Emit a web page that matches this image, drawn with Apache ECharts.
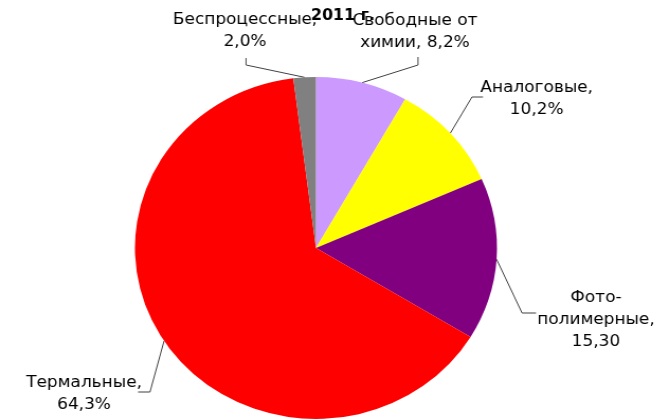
<!DOCTYPE html>
<html>
<head>
<meta charset="utf-8">
<script src="https://cdn.jsdelivr.net/npm/echarts@6/dist/echarts.min.js"></script>
<style>
  html, body { margin: 0; padding: 0; background: #fff; overflow: hidden; }
  /* the reference pie is slightly wider than tall, so the chart is stretched a bit */
  #chart { width: 623px; height: 420px; transform: scaleX(1.0585); transform-origin: 0 0; }
</style>
</head>
<body>
<div id="chart"></div>
<script>
const categories = ["Свободные от химии", "Аналоговые", "Фото-полимерные", "Термальные", "Беспроцессные"];
const values = [8.2, 10.2, 15.3, 64.3, 2.0];
const labelTexts = [
  "Свободные от\nхимии, 8,2%",
  "Аналоговые,\n10,2%",
  "Фото-\nполимерные,\n15,30",
  "Термальные,\n64,3%",
  "Беспроцессные,\n2,0%"
];
const colors = ["#CC99FF", "#FFFF00", "#800080", "#FF0000", "#808080"];

// label centre and leader line elbow/end, per slice
const labelPos = [
  { x: 392, y: 32, elbow: [394.9, 65], end: [394.9, 57] },
  { x: 507, y: 99, elbow: [445.9, 97], end: [456.3, 97] },
  { x: 563, y: 320, elbow: [493.2, 313], end: [506.4, 313] },
  { x: 79.4, y: 394, elbow: [141.7, 392], end: [130.4, 392] },
  { x: 231.5, y: 31, elbow: [232.4, 65], end: [232.4, 58] }
];

const chart = echarts.init(document.getElementById("chart"));

chart.setOption({
  animation: false,
  color: colors,
  title: {
    text: "2011 г.",
    left: 319,
    top: 4,
    textAlign: "center",
    textStyle: { fontFamily: "DejaVu Sans", fontSize: 15, fontWeight: "bold", color: "#000" }
  },
  series: [
    {
      type: "pie",
      center: [298.5, 248],
      radius: 171,
      startAngle: 90,
      clockwise: true,
      data: categories.map((c, i) => ({ name: c, value: values[i] })),
      label: {
        show: true,
        formatter: (p) => labelTexts[p.dataIndex],
        fontFamily: "DejaVu Sans",
        fontSize: 16,
        lineHeight: 22,
        color: "#000",
        align: "center",
        overflow: "none"
      },
      labelLine: {
        show: true,
        lineStyle: { color: "#404040", width: 1 }
      },
      labelLayout: function (params) {
        const lp = labelPos[params.dataIndex];
        const start = params.labelLinePoints ? params.labelLinePoints[0] : lp.elbow;
        return {
          x: lp.x,
          y: lp.y,
          align: "center",
          verticalAlign: "middle",
          labelLinePoints: [start, lp.elbow, lp.end]
        };
      },
      emphasis: { disabled: true }
    }
  ]
});
</script>
</body>
</html>
